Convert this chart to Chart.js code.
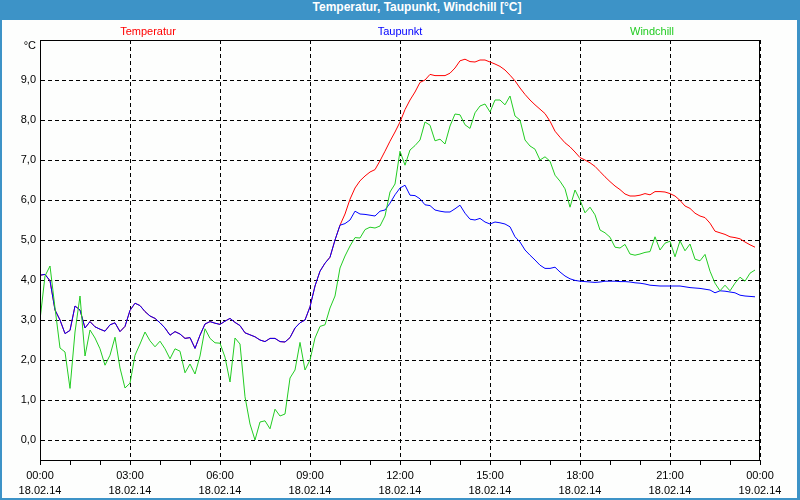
<!DOCTYPE html>
<html>
<head>
<meta charset="utf-8">
<script src="https://cdn.jsdelivr.net/npm/chart.js@4.4.1/dist/chart.umd.min.js"></script>
<style>
  body { margin: 0; width: 800px; height: 500px; background: #3d93c7; position: relative; overflow: hidden; }
  #title { position: absolute; left: 0; top: 0; width: 800px; height: 20px; line-height: 20px;
           padding-left: 34px; box-sizing: border-box; text-align: center;
           font: bold 12px "Liberation Sans", Arial, sans-serif; color: #ffffff; }
  #panel { position: absolute; left: 2px; top: 20px; width: 795px; height: 478px; background: #fdfefd; }
</style>
</head>
<body>
<div id="title">Temperatur, Taupunkt, Windchill [°C]</div>
<div id="panel"><canvas id="canvas" width="795" height="478"></canvas></div>
<script>
// 10-minute readings, 18.02.14 00:00 .. 23:50
const stepMinutes = 10;
const dates = ['18.02.14', '19.02.14'];

const temperatur = [
  4.12, 4.14, 3.98, 3.25, 3.00, 2.66, 2.74, 3.35, 3.25, 2.80, 2.96, 2.83,
  2.77, 2.72, 2.88, 2.93, 2.71, 2.84, 3.24, 3.42, 3.36, 3.21, 3.10, 3.04,
  2.93, 2.80, 2.62, 2.71, 2.65, 2.54, 2.56, 2.29, 2.62, 2.90, 2.96, 2.92,
  2.89, 2.97, 3.04, 2.94, 2.86, 2.68, 2.63, 2.58, 2.50, 2.46, 2.54, 2.54,
  2.46, 2.45, 2.56, 2.80, 2.93, 3.00, 3.33, 3.85, 4.22, 4.42, 4.57, 5.00,
  5.37, 5.65, 6.02, 6.30, 6.48, 6.60, 6.70, 6.76, 6.98, 7.22, 7.47, 7.70,
  7.95, 8.26, 8.50, 8.70, 8.94, 9.00, 9.14, 9.11, 9.11, 9.11, 9.17, 9.30,
  9.48, 9.52, 9.46, 9.45, 9.50, 9.50, 9.45, 9.40, 9.34, 9.25, 9.12, 8.98,
  8.80, 8.64, 8.50, 8.38, 8.27, 8.16, 7.97, 7.72, 7.57, 7.43, 7.33, 7.20,
  7.06, 7.00, 6.93, 6.84, 6.71, 6.58, 6.46, 6.35, 6.26, 6.15, 6.10, 6.10,
  6.12, 6.16, 6.13, 6.21, 6.21, 6.20, 6.16, 6.10, 5.99, 5.85, 5.79, 5.67,
  5.60, 5.56, 5.42, 5.22, 5.18, 5.14, 5.08, 5.06, 5.03, 4.95, 4.88, 4.82
];

const taupunkt = [
  4.12, 4.14, 3.98, 3.25, 3.00, 2.66, 2.74, 3.35, 3.25, 2.80, 2.96, 2.83,
  2.77, 2.72, 2.88, 2.93, 2.71, 2.84, 3.24, 3.42, 3.36, 3.21, 3.10, 3.04,
  2.93, 2.80, 2.62, 2.71, 2.65, 2.54, 2.56, 2.29, 2.62, 2.90, 2.96, 2.92,
  2.89, 2.97, 3.04, 2.94, 2.86, 2.68, 2.63, 2.58, 2.50, 2.46, 2.54, 2.54,
  2.46, 2.45, 2.56, 2.80, 2.93, 3.00, 3.33, 3.85, 4.22, 4.42, 4.57, 5.00,
  5.37, 5.41, 5.50, 5.72, 5.65, 5.64, 5.62, 5.60, 5.72, 5.75, 5.92, 6.13,
  6.30, 6.37, 6.12, 6.11, 6.03, 5.88, 5.86, 5.75, 5.72, 5.70, 5.70, 5.78,
  5.87, 5.67, 5.52, 5.50, 5.54, 5.45, 5.40, 5.45, 5.43, 5.40, 5.33, 5.08,
  4.95, 4.75, 4.62, 4.50, 4.37, 4.29, 4.29, 4.32, 4.20, 4.10, 4.03, 3.99,
  3.97, 3.96, 3.95, 3.94, 3.95, 3.97, 3.97, 3.97, 3.96, 3.96, 3.95, 3.93,
  3.92, 3.90, 3.87, 3.86, 3.85, 3.85, 3.85, 3.85, 3.85, 3.83, 3.81, 3.80,
  3.79, 3.77, 3.75, 3.68, 3.73, 3.72, 3.70, 3.68, 3.62, 3.60, 3.59, 3.58
];

const windchill = [
  3.00, 4.10, 4.35, 3.30, 2.30, 2.20, 1.29, 2.70, 3.60, 2.10, 2.75, 2.55,
  2.28, 1.87, 2.12, 2.57, 1.80, 1.30, 1.42, 2.12, 2.40, 2.70, 2.48, 2.33,
  2.47, 2.28, 2.03, 2.28, 2.22, 1.68, 1.90, 1.65, 2.10, 2.78, 2.54, 2.43,
  2.42, 2.07, 1.45, 2.55, 2.40, 1.08, 0.40, 0.00, 0.45, 0.48, 0.28, 0.77,
  0.60, 0.65, 1.55, 1.75, 2.44, 1.75, 2.00, 2.55, 2.84, 2.88, 3.30, 3.60,
  4.30, 4.60, 4.85, 5.06, 5.05, 5.26, 5.32, 5.30, 5.35, 5.60, 6.20, 6.40,
  7.22, 6.87, 7.25, 7.36, 7.50, 7.95, 7.87, 7.48, 7.52, 7.40, 7.85, 8.15,
  8.13, 7.88, 7.79, 8.18, 8.35, 8.40, 8.20, 8.50, 8.50, 8.38, 8.60, 8.10,
  8.00, 7.50, 7.35, 7.27, 7.00, 7.08, 6.97, 6.62, 6.47, 6.28, 5.82, 6.25,
  6.00, 5.68, 5.82, 5.63, 5.25, 5.18, 5.07, 4.82, 4.80, 4.89, 4.65, 4.62,
  4.65, 4.69, 4.71, 5.08, 4.75, 4.92, 4.97, 4.58, 4.98, 4.73, 4.90, 4.52,
  4.48, 4.64, 4.22, 3.92, 3.73, 3.87, 3.73, 3.92, 4.07, 3.97, 4.17, 4.25
];

const fontFamily = '"Liberation Sans", Arial, sans-serif';

function toPoints(values) {
  return values.map((v, i) => ({ x: i * stepMinutes / 60, y: v }));
}

function hourLabel(h) {
  const hh = String(h % 24).padStart(2, '0');
  return [hh + ':00', dates[h >= 24 ? 1 : 0]];
}

// legend text spread over the top of the plot, and the unit above the y axis
const extras = {
  id: 'extras',
  afterDraw(chart) {
    const { ctx, chartArea } = chart;
    ctx.save();
    ctx.font = '11px ' + fontFamily;
    ctx.textBaseline = 'middle';
    ctx.textAlign = 'center';
    const spots = [0.15, 0.5, 0.85];
    chart.data.datasets.forEach((ds, i) => {
      ctx.fillStyle = ds.borderColor;
      ctx.fillText(ds.label, chartArea.left + chartArea.width * spots[i], chartArea.top - 8);
    });
    ctx.fillStyle = '#000';
    ctx.textAlign = 'right';
    ctx.fillText('°C', chartArea.left - 4, chartArea.top + 6);
    ctx.strokeStyle = '#000';
    ctx.lineWidth = 1;
    ctx.strokeRect(chartArea.left + 0.5, chartArea.top + 0.5, chartArea.width - 1, chartArea.height);
    ctx.restore();
  }
};

var ctx = document.getElementById('canvas').getContext('2d');
var chart = new Chart(ctx, {
  type: 'line',
  data: {
    datasets: [
      { label: 'Temperatur', data: toPoints(temperatur), borderColor: '#ff0000', order: 2 },
      { label: 'Taupunkt', data: toPoints(taupunkt), borderColor: '#0000ff', order: 1 },
      { label: 'Windchill', data: toPoints(windchill), borderColor: '#22cc22', order: 0 }
    ]
  },
  options: {
    responsive: false,
    animation: false,
    layout: { padding: { top: 20, right: 37, left: 0, bottom: 0 } },
    elements: {
      line: { borderWidth: 1, tension: 0 },
      point: { radius: 0 }
    },
    plugins: {
      legend: { display: false },
      title: { display: false },
      tooltip: { enabled: false }
    },
    scales: {
      x: {
        type: 'linear',
        min: 0,
        max: 24,
        afterFit: (scale) => { scale.height = 38; },
        border: { color: '#000', width: 1, dash: [4, 3] },
        grid: {
          color: (c) => (c.tick && c.tick.value % 3 === 0) ? '#000' : 'rgba(0,0,0,0)',
          tickColor: '#000',
          tickLength: 5
        },
        ticks: {
          stepSize: 1,
          autoSkip: false,
          maxRotation: 0,
          padding: 4,
          color: '#000',
          font: { family: fontFamily, size: 11, lineHeight: 1.35 },
          callback: (v) => v % 3 === 0 ? hourLabel(v) : ''
        }
      },
      y: {
        type: 'linear',
        min: -0.5,
        max: 10,
        afterFit: (scale) => { scale.width = 38; },
        border: { color: '#000', width: 1, dash: [4, 3] },
        grid: {
          color: (c) => (c.tick && Number.isInteger(c.tick.value) && c.tick.value < 10) ? '#000' : 'rgba(0,0,0,0)',
          drawTicks: false
        },
        ticks: {
          stepSize: 1,
          padding: 4,
          color: '#000',
          font: { family: fontFamily, size: 11 },
          callback: (v) => (Number.isInteger(v) && v < 10) ? v.toFixed(1).replace('.', ',') : ''
        }
      }
    }
  },
  plugins: [extras]
});
</script>
</body>
</html>
